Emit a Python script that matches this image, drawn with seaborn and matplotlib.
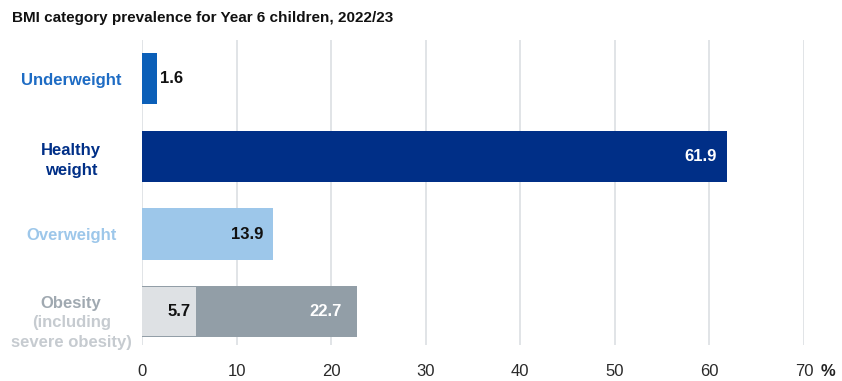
import matplotlib
matplotlib.use("Agg")
import matplotlib.pyplot as plt
import matplotlib.transforms as mtransforms
import seaborn as sns
import pandas as pd

categories = ["Underweight", "Healthy\nweight", "Overweight", "Obesity\n(including\nsevere obesity)"]
obesity_head = "Obesity"
obesity_sub = "(including\nsevere obesity)"
values = [1.6, 61.9, 13.9, 22.7]
severe_label = "Severe obesity"
severe_value = 5.7
xticks = [0, 10, 20, 30, 40, 50, 60, 70]

bar_colors = ["#0B5FB8", "#002F87", "#9DC7EA", "#929EA7"]
label_colors = ["#1E6CC4", "#002F87", "#9DC7EA", "#A0A9B1"]
obesity_sub_color = "#C6CBD0"
value_text_colors = ["#111111", "white", "#111111", "white"]
severe_color = "#DEE1E4"

sns.set_theme(style="white")
plt.rcParams["font.family"] = ["Liberation Sans", "DejaVu Sans"]

fig = plt.figure(figsize=(8.42, 3.81), dpi=100)
ax = fig.add_axes([142/842, 1 - 345/381, 662/842, 305/381])

df = pd.DataFrame({"category": categories, "value": values})
sns.barplot(data=df, x="value", y="category", hue="category", order=categories,
            palette=dict(zip(categories, bar_colors)), legend=False, width=0.66,
            saturation=1, linewidth=0, ax=ax, zorder=2)
df2 = pd.DataFrame({"category": [categories[3]], "value": [severe_value]})
sns.barplot(data=df2, x="value", y="category", order=categories, color=severe_color,
            width=0.63, saturation=1, linewidth=0, ax=ax, zorder=3)

ax.set_xlim(0, 70)
ax.set_ylim(3.43, -0.5)
ax.set_xticks(xticks)
ax.set_xticklabels([str(t) for t in xticks], fontsize=12, color="#2a2a2a")
ax.tick_params(axis="x", length=0, pad=14)
for t in xticks:
    ax.axvline(t, color="#DCDFE3", lw=1.2, zorder=0)
for s in ax.spines.values():
    s.set_visible(False)
ax.set_xlabel("")
ax.set_ylabel("")

ax.set_yticks(range(len(categories)))
ax.set_yticklabels(categories[:3] + [""])
for lbl, c in zip(ax.get_yticklabels(), label_colors):
    lbl.set_color(c)
    lbl.set_fontweight("bold")
    lbl.set_fontsize(12)
    lbl.set_horizontalalignment("center")
    lbl.set_multialignment("center")
    lbl.set_linespacing(1.4)
ax.tick_params(axis="y", length=0, pad=51)

# obesity label in two tones
trans = mtransforms.blended_transform_factory(ax.transAxes, ax.transData)
ax.annotate(obesity_head, xy=(0, 3), xycoords=trans, xytext=(-51, 6),
            textcoords="offset points", ha="center", va="center", fontsize=12,
            fontweight="bold", color=label_colors[3], annotation_clip=False)
ax.annotate(obesity_sub, xy=(0, 3), xycoords=trans, xytext=(-51, -15),
            textcoords="offset points", ha="center", va="center", fontsize=12,
            fontweight="bold", color=obesity_sub_color, linespacing=1.35,
            multialignment="center", annotation_clip=False)

# value labels
offsets = [0.3, 1.1, 1.1, 1.6]
for i, (v, c, o) in enumerate(zip(values, value_text_colors, offsets)):
    if v < 5:
        ax.text(v + o, i, f"{v}", ha="left", va="center", fontsize=12,
                fontweight="bold", color=c, zorder=4)
    else:
        ax.text(v - o, i, f"{v}", ha="right", va="center", fontsize=12,
                fontweight="bold", color=c, zorder=4)
ax.text(severe_value - 0.6, 3, f"{severe_value}", ha="right", va="center",
        fontsize=12, fontweight="bold", color="#111111", zorder=4)

fig.text(828/842, 1 - 372/381, "%", ha="center", va="center", fontsize=12,
         fontweight="bold", color="#222222")
fig.text(12/842, 1 - 18/381, "BMI category prevalence for Year 6 children, 2022/23",
         ha="left", va="center", fontsize=11, fontweight="bold", color="#111111")

fig.savefig("out.png", dpi=100, facecolor="white")
